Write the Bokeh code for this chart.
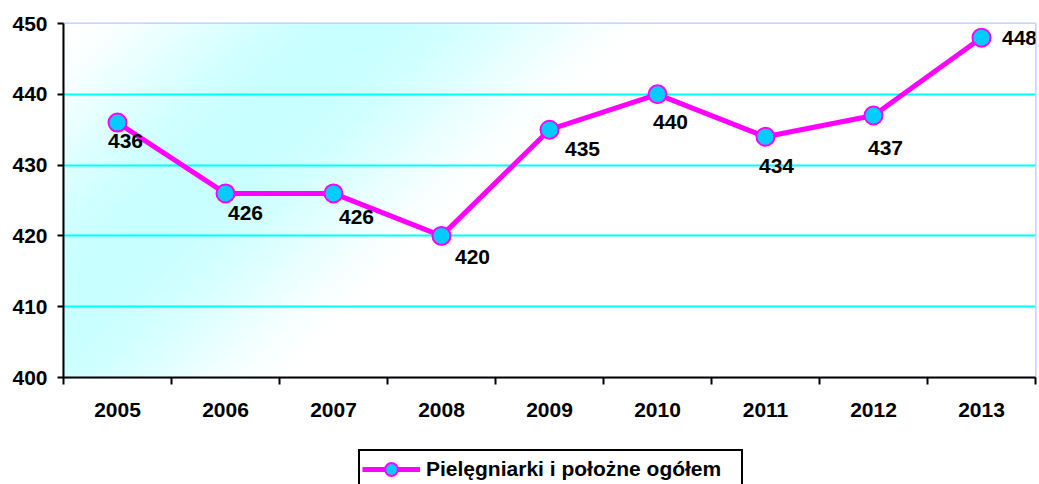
import numpy as np
from bokeh.plotting import figure
from bokeh.layouts import column
from bokeh.core.properties import value
from bokeh.models import (ColumnDataSource, LabelSet, FixedTicker, Range1d,
                          Legend, LegendItem)
from bokeh.embed import file_html
from bokeh.resources import INLINE

# ---- data ----
years = ["2005", "2006", "2007", "2008", "2009", "2010", "2011", "2012", "2013"]
values = [436, 426, 426, 420, 435, 440, 434, 437, 448]
y_ticks = [400, 410, 420, 430, 440, 450]
series_name = "Pielęgniarki i położne ogółem"

# label offsets (screen px, style only)
label_dx = [8, 20, 23, 31, 33, 13, 11, 12, 38]
label_dy = [-18, -20, -24, -21, -19, -28, -29, -32, 0]

FONT = "Liberation Sans"
FS = "21px"

LINE_COLOR = "#ff00ff"
MARK_COLOR = "#00ccff"

xs = [i + 0.5 for i in range(len(years))]

W, H1, H2 = 1039, 448, 36
p = figure(width=W, height=H1, output_backend="svg", toolbar_location=None,
           x_range=Range1d(0, len(years)), y_range=Range1d(400, 450),
           min_border_left=63, min_border_right=4, min_border_top=23,
           min_border_bottom=H1 - 377)
p.background_fill_color = "white"
p.border_fill_color = "white"
p.outline_line_color = "#b8c8ff"
p.outline_line_width = 2

# ---- gradient background (style) ----
FW, FH = 972, 354
gx = np.arange(FW)[None, :].astype(float)
gy_top = (FH - 1 - np.arange(FH))[:, None].astype(float)
d = gx / 300.0 + gy_top / 290.0 - 1.0
t = np.clip(1.0 - np.abs(d) / 0.95, 0, 1)
t = np.sin(t * np.pi / 2) ** 1.5
r = (255 - t * (255 - 200)).astype(np.uint32)
g = np.full_like(r, 255)
b = np.full_like(r, 255)
a = np.full_like(r, 255)
img = (a << 24) | (b << 16) | (g << 8) | r
p.image_rgba(image=[img.astype(np.uint32)], x=0, y=400, dw=len(years), dh=50,
             level="image")

# ---- grid ----
p.xgrid.visible = False
p.ygrid.ticker = FixedTicker(ticks=y_ticks[1:-1])
p.ygrid.grid_line_color = "#00ffff"
p.ygrid.grid_line_width = 2

# ---- axes ----
p.xaxis.ticker = FixedTicker(ticks=xs, minor_ticks=list(range(len(years) + 1)))
p.xaxis.major_label_overrides = {x: yv for x, yv in zip(xs, years)}
p.xaxis.major_tick_line_color = None
p.xaxis.minor_tick_line_color = "black"
p.xaxis.minor_tick_line_width = 2
p.xaxis.minor_tick_out = 7
p.xaxis.minor_tick_in = 0
p.xaxis.major_label_standoff = 18

p.yaxis.ticker = FixedTicker(ticks=y_ticks)
p.yaxis.minor_tick_line_color = None
p.yaxis.major_tick_line_width = 2
p.yaxis.major_tick_out = 6
p.yaxis.major_tick_in = 0
p.yaxis.major_label_standoff = 10

for ax in (p.xaxis, p.yaxis):
    ax.axis_line_color = "black"
    ax.axis_line_width = 2
    ax.major_label_text_font = FONT
    ax.major_label_text_font_style = "bold"
    ax.major_label_text_font_size = FS
    ax.major_label_text_color = "black"

# ---- series ----
src = ColumnDataSource(dict(x=xs, y=values, text=[str(v) for v in values],
                            dx=label_dx, dy=label_dy))
p.line("x", "y", source=src, line_color=LINE_COLOR, line_width=5)
p.scatter("x", "y", source=src, size=18, fill_color=MARK_COLOR,
          line_color=LINE_COLOR, line_width=2)

labels = LabelSet(x="x", y="y", text="text", source=src,
                  x_offset="dx", y_offset="dy",
                  text_align="center", text_baseline="middle",
                  text_font=value(FONT), text_font_style="bold",
                  text_font_size=value(FS), text_color="black")
p.add_layout(labels)

# ---- legend strip (separate figure below the chart) ----
p2 = figure(width=W, height=H2, output_backend="svg", toolbar_location=None,
            x_range=Range1d(0, 1), y_range=Range1d(0, 1),
            min_border=0, min_border_left=63, min_border_right=4,
            min_border_top=0, min_border_bottom=0)
p2.axis.visible = False
p2.grid.visible = False
p2.outline_line_color = None
p2.background_fill_color = "white"
p2.border_fill_color = "white"
# legend-only renderers: their points lie outside the strip's ranges
proxy = ColumnDataSource(dict(x=[-5, -4], y=[-5, -5]))
lg_line = p2.line("x", "y", source=proxy, line_color=LINE_COLOR, line_width=5)
lg_mark = p2.scatter("x", "y", source=proxy, fill_color=MARK_COLOR,
                     line_color=LINE_COLOR, line_width=2)

legend = Legend(items=[LegendItem(label=series_name, renderers=[lg_line, lg_mark],
                                  index=0)],
                location=(295, -5), orientation="horizontal",
                border_line_color="black", border_line_width=2,
                border_line_alpha=1.0,
                background_fill_color="white", background_fill_alpha=1,
                padding=2, margin=0, glyph_width=58, glyph_height=32,
                label_standoff=6, label_width=313,
                label_text_font=FONT, label_text_font_style="bold",
                label_text_font_size=FS, label_text_color="black")
p2.add_layout(legend, "center")

layout = column(p, p2, spacing=0)
open("out.html", "w").write(file_html(layout, INLINE))
